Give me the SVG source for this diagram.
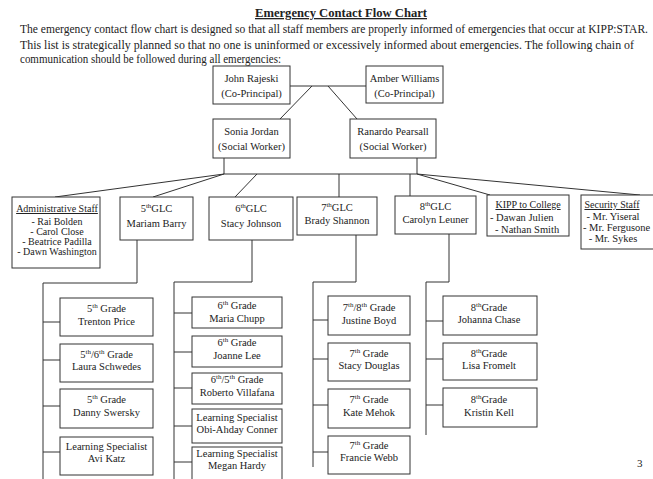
<svg xmlns="http://www.w3.org/2000/svg" width="653" height="479" viewBox="0 0 653 479">
<style>
.bg{fill:#fff}
.box{fill:#fff;stroke:#333;stroke-width:1}
.t{font-family:"Liberation Serif",serif;font-size:10.5px;fill:#222;text-anchor:middle}
.st{text-anchor:start}
.sm{font-size:10px}
.s{font-size:7px}
.u{text-decoration:underline}
.c{stroke:#333;stroke-width:1;fill:none}
.p{font-family:"Liberation Serif",serif;font-size:11.5px;fill:#222}
</style>
<rect class="bg" x="0" y="0" width="653" height="479"/>
<text x="341" y="17" class="p" style="font-size:13px;font-weight:bold;text-anchor:middle;text-decoration:underline" textLength="172" lengthAdjust="spacingAndGlyphs">Emergency Contact Flow Chart</text>
<text x="20" y="33" class="p" textLength="628" lengthAdjust="spacingAndGlyphs">The emergency contact flow chart is designed so that all staff members are properly informed of emergencies that occur at KIPP:STAR.</text>
<text x="20" y="48.5" class="p" textLength="614" lengthAdjust="spacingAndGlyphs">This list is strategically planned so that no one is uninformed or excessively informed about emergencies. The following chain of</text>
<text x="20" y="63" class="p" textLength="261" lengthAdjust="spacingAndGlyphs">communication should be followed during all emergencies:</text>

<g id="connectors">
<path class="c" d="M290 86H366M312 86L280 119M328 86L357 119"/>
<path class="c" d="M224 158V174H417M417 158V174M224 174L55 197M224 174L153 197M257 174L235 197M339 174V197M410 174V196M417 174L490 195M417 174L640 195"/>
<path class="c" d="M137 240V283H43V479M43 322H60M43 360H60M43 406H60M43 452H60"/>
<path class="c" d="M252 240V282H174V479M174 313H192M174 352H192M174 388H192M174 426H192M174 462H192"/>
<path class="c" d="M356 235V282H313V467M313 320H328M313 359H328M313 405H328M313 452H328"/>
<path class="c" d="M449 234V282H426V435M426 321H443M426 359H443M426 405H443"/>
</g>

<g id="john"><rect class="box" x="213" y="66" width="77" height="38"/><text class="t" x="251.5" y="82">John Rajeski</text><text class="t" x="251.5" y="97">(Co-Principal)</text></g>
<g id="amber"><rect class="box" x="366" y="66" width="77" height="37"/><text class="t" x="404.5" y="82">Amber Williams</text><text class="t" x="404.5" y="97">(Co-Principal)</text></g>
<g id="sonia"><rect class="box" x="213" y="119" width="77" height="39"/><text class="t" x="251.5" y="135">Sonia Jordan</text><text class="t" x="251.5" y="150">(Social Worker)</text></g>
<g id="ranardo"><rect class="box" x="350" y="119" width="86" height="39"/><text class="t" x="393" y="135">Ranardo Pearsall</text><text class="t" x="393" y="150">(Social Worker)</text></g>

<g id="admin"><rect class="box" x="12" y="197" width="88" height="71"/>
<text class="t sm" x="57" y="212"><tspan class="u">Administrative Staff</tspan></text>
<text class="t sm" x="57" y="225">- Rai Bolden</text>
<text class="t sm" x="57" y="235">- Carol Close</text>
<text class="t sm" x="57" y="245">- Beatrice Padilla</text>
<text class="t sm" x="57" y="255">- Dawn Washington</text></g>
<g id="glc5"><rect class="box" x="120" y="197" width="73" height="43"/><text class="t" x="156.5" y="212">5<tspan class="s" dy="-4">th</tspan><tspan dy="4">GLC</tspan></text><text class="t" x="156.5" y="227">Mariam Barry</text></g>
<g id="glc6"><rect class="box" x="209" y="197" width="84" height="43"/><text class="t" x="251" y="212">6<tspan class="s" dy="-4">th</tspan><tspan dy="4">GLC</tspan></text><text class="t" x="251" y="227">Stacy Johnson</text></g>
<g id="glc7"><rect class="box" x="297" y="197" width="80" height="38"/><text class="t" x="337" y="211">7<tspan class="s" dy="-4">th</tspan><tspan dy="4">GLC</tspan></text><text class="t" x="337" y="224">Brady Shannon</text></g>
<g id="glc8"><rect class="box" x="395" y="196" width="81" height="38"/><text class="t" x="435.5" y="210">8<tspan class="s" dy="-4">th</tspan><tspan dy="4">GLC</tspan></text><text class="t" x="435.5" y="223">Carolyn Leuner</text></g>
<g id="kipp"><rect class="box" x="487" y="195" width="82" height="41"/>
<text class="t sm" x="528" y="208"><tspan class="u">KIPP to College</tspan></text>
<text class="t st" x="490" y="221">- Dawan Julien</text>
<text class="t st" x="495" y="233">- Nathan Smith</text></g>
<g id="security"><rect class="box" x="581" y="195" width="80" height="54"/>
<text class="t sm" x="612" y="208"><tspan class="u">Security Staff</tspan></text>
<text class="t" x="613" y="220">- Mr. Yiseral</text>
<text class="t st" x="583" y="231">- Mr. Fergusone</text>
<text class="t" x="613" y="242">- Mr. Sykes</text></g>

<g id="trenton"><rect class="box" x="60" y="298" width="93" height="38"/><text class="t" x="106.5" y="312">5<tspan class="s" dy="-4">th</tspan><tspan dy="4"> Grade</tspan></text><text class="t" x="106.5" y="325">Trenton Price</text></g>
<g id="laura"><rect class="box" x="60" y="344" width="93" height="38"/><text class="t" x="106.5" y="358">5<tspan class="s" dy="-4">th</tspan><tspan dy="4">/6</tspan><tspan class="s" dy="-4">th</tspan><tspan dy="4"> Grade</tspan></text><text class="t" x="106.5" y="370">Laura Schwedes</text></g>
<g id="danny"><rect class="box" x="60" y="389" width="93" height="39"/><text class="t" x="106.5" y="403">5<tspan class="s" dy="-4">th</tspan><tspan dy="4"> Grade</tspan></text><text class="t" x="106.5" y="416">Danny Swersky</text></g>
<g id="avi"><rect class="box" x="60" y="437" width="93" height="38"/><text class="t" x="106.5" y="450">Learning Specialist</text><text class="t" x="106.5" y="462">Avi Katz</text></g>

<g id="maria"><rect class="box" x="192" y="297" width="90" height="31"/><text class="t" x="237" y="309">6<tspan class="s" dy="-4">th</tspan><tspan dy="4"> Grade</tspan></text><text class="t" x="237" y="322">Maria Chupp</text></g>
<g id="joanne"><rect class="box" x="192" y="336" width="90" height="31"/><text class="t" x="237" y="346">6<tspan class="s" dy="-4">th</tspan><tspan dy="4"> Grade</tspan></text><text class="t" x="237" y="359">Joanne Lee</text></g>
<g id="roberto"><rect class="box" x="192" y="373" width="90" height="31"/><text class="t" x="237" y="383">6<tspan class="s" dy="-4">th</tspan><tspan dy="4">/5</tspan><tspan class="s" dy="-4">th</tspan><tspan dy="4"> Grade</tspan></text><text class="t" x="237" y="396">Roberto Villafana</text></g>
<g id="obi"><rect class="box" x="192" y="409" width="90" height="34"/><text class="t" x="237" y="421">Learning Specialist</text><text class="t" x="237" y="433">Obi-Ahday Conner</text></g>
<g id="megan"><rect class="box" x="192" y="447" width="90" height="40"/><text class="t" x="237" y="457">Learning Specialist</text><text class="t" x="237" y="469">Megan Hardy</text></g>

<g id="justine"><rect class="box" x="328" y="296" width="82" height="39"/><text class="t" x="369" y="311">7<tspan class="s" dy="-4">th</tspan><tspan dy="4">/8</tspan><tspan class="s" dy="-4">th</tspan><tspan dy="4"> Grade</tspan></text><text class="t" x="369" y="324">Justine Boyd</text></g>
<g id="stacyd"><rect class="box" x="328" y="343" width="82" height="38"/><text class="t" x="369" y="357">7<tspan class="s" dy="-4">th</tspan><tspan dy="4"> Grade</tspan></text><text class="t" x="369" y="369">Stacy Douglas</text></g>
<g id="kate"><rect class="box" x="328" y="389" width="82" height="39"/><text class="t" x="369" y="403">7<tspan class="s" dy="-4">th</tspan><tspan dy="4"> Grade</tspan></text><text class="t" x="369" y="416">Kate Mehok</text></g>
<g id="francie"><rect class="box" x="328" y="436" width="82" height="38"/><text class="t" x="369" y="449">7<tspan class="s" dy="-4">th</tspan><tspan dy="4"> Grade</tspan></text><text class="t" x="369" y="461">Francie Webb</text></g>

<g id="johanna"><rect class="box" x="443" y="296" width="94" height="39"/><text class="t" x="489" y="311">8<tspan class="s" dy="-4">th</tspan><tspan dy="4">Grade</tspan></text><text class="t" x="489" y="323">Johanna Chase</text></g>
<g id="lisa"><rect class="box" x="443" y="343" width="94" height="37"/><text class="t" x="489" y="357">8<tspan class="s" dy="-4">th</tspan><tspan dy="4">Grade</tspan></text><text class="t" x="489" y="369">Lisa Fromelt</text></g>
<g id="kristin"><rect class="box" x="443" y="388" width="94" height="39"/><text class="t" x="489" y="403">8<tspan class="s" dy="-4">th</tspan><tspan dy="4">Grade</tspan></text><text class="t" x="489" y="416">Kristin Kell</text></g>

<text class="p" x="637" y="467" style="font-size:11px">3</text>
</svg>
